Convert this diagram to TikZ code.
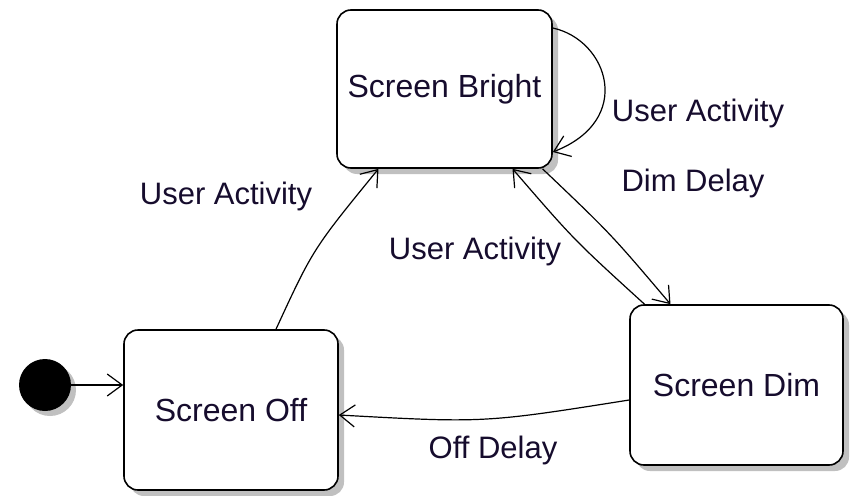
\documentclass[tikz,border=0pt]{standalone}
\usepackage{fontspec}
\setmainfont{Liberation Sans}
\usetikzlibrary{arrows.meta,calc,shadows}
\definecolor{txt}{RGB}{22,12,45}
\definecolor{shade}{RGB}{192,192,192}
\begin{document}
\begin{tikzpicture}[x=1pt,y=-1pt,
  state/.style={draw=black, line width=1.6pt, rounded corners=14pt, fill=white,
    minimum width=214pt, minimum height=158pt, inner sep=0pt, text=txt,
    font=\fontsize{32}{38}\selectfont,
    drop shadow={shadow xshift=6pt, shadow yshift=-6pt, fill=shade, opacity=1}},
  lbl/.style={text=txt, font=\fontsize{31}{36}\selectfont, inner sep=0pt},
  tr/.style={draw=black, line width=1.2pt,
    -{Straight Barb[length=15pt,width=22pt,line width=1.2pt]}}
]
\useasboundingbox (0,0) rectangle (856,495);
\fill[white] (0,0) rectangle (856,495);

\node[state, minimum width=215pt] (bright) at (444.5,89) {Screen Bright};
\node[state, minimum height=160pt] (off) at (231,410) {Screen Off};
\node[state, minimum width=213pt, minimum height=160pt] (dim) at (736.5,385) {Screen Dim};
\node[circle, fill=black, minimum size=52pt, inner sep=0pt,
  drop shadow={shadow xshift=5pt, shadow yshift=-5pt, fill=shade, opacity=1}] (init) at (45,385) {};

\draw[tr] (init) -- (init -| off.west);
\draw[tr] ($(off.north)+(45,0)$) .. controls (313,249) .. ($(bright.south)+(-66,0)$);
\draw[tr] ($(dim.north)+(-92,0)$) .. controls (574,240) .. ($(bright.south)+(68,0)$);
\draw[tr] ($(bright.south)+(98,0)$) .. controls (611,234) .. ($(dim.north)+(-66,0)$);
\draw[tr] ($(bright.east)+(0,-61)$) .. controls (608,40) and (635,120) .. ($(bright.east)+(0,63)$);
\draw[tr] ($(dim.west)+(0,15)$) .. controls (484,423) .. ($(off.east)+(0,5)$);

\node[lbl] (l1) at (226,196) {User Activity};
\node[lbl] (l2) at (698,113) {User Activity};
\node[lbl] (l3) at (693,183) {Dim Delay};
\node[lbl] (l4) at (475,251) {User Activity};
\node[lbl] (l5) at (493,450) {Off Delay};
\end{tikzpicture}
\end{document}
